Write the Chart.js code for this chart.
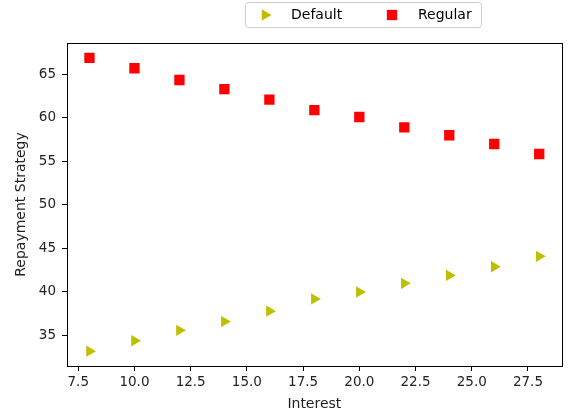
<!DOCTYPE html>
<html>
<head>
<meta charset="utf-8">
<script src="https://cdn.jsdelivr.net/npm/chart.js@4"></script>
<style>
    html, body { margin: 0; padding: 0; background: #fff; }
    #wrap { width: 569px; height: 417px; position: relative; }
</style>
</head>
<body>
<div id="wrap"><canvas id="chart" width="569" height="417"></canvas></div>
<script>
const interest = [8, 10, 12, 14, 16, 18, 20, 22, 24, 26, 28];
const defaultValues = [33.2, 34.4, 35.6, 36.6, 37.8, 39.2, 40.0, 41.0, 41.9, 42.9, 44.1];
const regularValues = [66.9, 65.7, 64.35, 63.3, 62.1, 60.9, 60.1, 58.9, 58.0, 57.0, 55.85];
const xTicks = [7.5, 10, 12.5, 15, 17.5, 20, 22.5, 25, 27.5];
const yTicks = [35, 40, 45, 50, 55, 60, 65];
const xLimits = [7, 29];
const yLimits = [31.5, 68.6];

const FONT = 'DejaVu Sans';

// caixa em volta da area do grafico + legenda
const framePlugin = {
    id: 'frame',
    afterDraw(chart) {
        const ctx = chart.ctx;
        const a = chart.chartArea;
        ctx.save();
        ctx.strokeStyle = '#000';
        ctx.lineWidth = 1;
        ctx.strokeRect(Math.round(a.left) + 0.5, Math.round(a.top) + 0.5,
            Math.round(a.right - a.left), Math.round(a.bottom - a.top));

        // legenda
        const x0 = 245.5, y0 = 2.5, w = 236, h = 25, r = 3;
        ctx.beginPath();
        ctx.moveTo(x0 + r, y0);
        ctx.arcTo(x0 + w, y0, x0 + w, y0 + h, r);
        ctx.arcTo(x0 + w, y0 + h, x0, y0 + h, r);
        ctx.arcTo(x0, y0 + h, x0, y0, r);
        ctx.arcTo(x0, y0, x0 + w, y0, r);
        ctx.closePath();
        ctx.fillStyle = 'rgba(255,255,255,0.8)';
        ctx.fill();
        ctx.strokeStyle = '#cccccc';
        ctx.stroke();

        const items = [
            { ds: chart.data.datasets[0], mx: 265, tx: 291 },
            { ds: chart.data.datasets[1], mx: 392, tx: 418 }
        ];
        items.forEach(item => {
            ctx.fillStyle = item.ds.backgroundColor;
            ctx.strokeStyle = item.ds.borderColor;
            Chart.helpers.drawPoint(ctx, {
                pointStyle: item.ds.pointStyle,
                rotation: item.ds.pointRotation || 0,
                radius: item.ds.pointRadius,
                borderWidth: 0
            }, item.mx, 15);
            ctx.fillStyle = '#000';
            ctx.font = '14px "' + FONT + '"';
            ctx.textBaseline = 'middle';
            ctx.textAlign = 'left';
            ctx.fillText(item.ds.label, item.tx, 15);
        });
        ctx.restore();
    }
};

function toPoints(xs, ys) {
    return xs.map((x, i) => ({ x: x, y: ys[i] }));
}

const ctx = document.getElementById('chart').getContext('2d');
new Chart(ctx, {
    type: 'scatter',
    data: {
        datasets: [
            {
                label: 'Default',
                data: toPoints(interest, defaultValues),
                pointStyle: 'triangle',
                pointRotation: 90,
                pointRadius: 6.5,
                backgroundColor: '#bfbf00',
                borderColor: '#bfbf00',
                borderWidth: 0
            },
            {
                label: 'Regular',
                data: toPoints(interest, regularValues),
                pointStyle: 'rect',
                pointRadius: 7.3,
                backgroundColor: '#ff0000',
                borderColor: '#ff0000',
                borderWidth: 0
            }
        ]
    },
    options: {
        responsive: false,
        animation: false,
        events: [],
        layout: { padding: { left: 0, right: 7, top: 43, bottom: 0 } },
        plugins: {
            legend: { display: false },
            tooltip: { enabled: false }
        },
        scales: {
            x: {
                type: 'linear',
                min: xLimits[0],
                max: xLimits[1],
                afterBuildTicks: scale => { scale.ticks = xTicks.map(v => ({ value: v })); },
                afterFit: scale => { scale.height = 51; },
                grid: { drawOnChartArea: false, drawTicks: true, tickLength: 5, tickColor: '#000' },
                border: { display: true, color: '#000' },
                ticks: {
                    color: '#222',
                    font: { family: FONT, size: 13.5 },
                    padding: 3,
                    maxRotation: 0,
                    callback: v => v.toFixed(1)
                },
                title: { display: true, text: 'Interest', color: '#222', font: { family: FONT, size: 14 }, padding: { top: 0, bottom: 4 } }
            },
            y: {
                min: yLimits[0],
                max: yLimits[1],
                afterBuildTicks: scale => { scale.ticks = yTicks.map(v => ({ value: v })); },
                afterFit: scale => { scale.width = 67; },
                grid: { drawOnChartArea: false, drawTicks: true, tickLength: 5, tickColor: '#000' },
                border: { display: true, color: '#000' },
                ticks: {
                    color: '#222',
                    font: { family: FONT, size: 13.5 },
                    padding: 6,
                    callback: v => String(v)
                },
                title: { display: true, text: 'Repayment Strategy', color: '#222', font: { family: FONT, size: 14 }, padding: { top: 13, bottom: 0 } }
            }
        }
    },
    plugins: [framePlugin]
});
</script>
</body>
</html>
